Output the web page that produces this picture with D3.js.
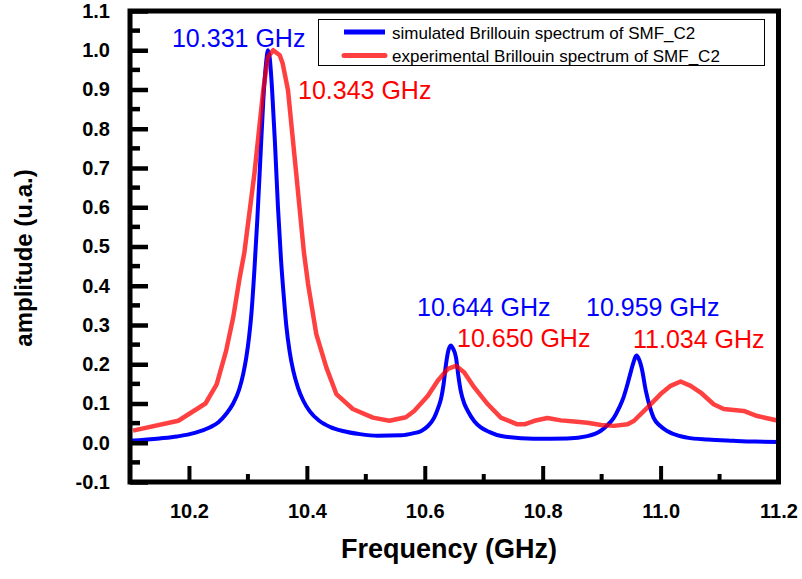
<!DOCTYPE html>
<html>
<head>
<meta charset="utf-8">
<script src="https://cdn.jsdelivr.net/npm/d3@7/dist/d3.min.js"></script>
<style>
  html, body { margin: 0; padding: 0; background: #fff; }
  svg { display: block; }
  text { font-family: Arial, "Liberation Sans", sans-serif; }
</style>
</head>
<body>
<svg id="chart" width="802" height="579"></svg>
<script>
// Simulated Brillouin gain spectrum (GHz, normalised amplitude)
const simFreq = [10.100, 10.150, 10.180, 10.210, 10.235, 10.250, 10.263, 10.275, 10.285, 10.292,
  10.297, 10.302, 10.306, 10.311, 10.316, 10.321, 10.326, 10.331, 10.334, 10.337,
  10.341, 10.346, 10.351, 10.356, 10.361, 10.365, 10.371, 10.377, 10.385, 10.394,
  10.405, 10.421, 10.440, 10.461, 10.490, 10.520, 10.560, 10.580, 10.594, 10.605,
  10.616, 10.623, 10.628, 10.632, 10.636, 10.640, 10.644, 10.648, 10.653, 10.657,
  10.661, 10.667, 10.673, 10.684, 10.695, 10.710, 10.730, 10.785, 10.842, 10.876,
  10.898, 10.910, 10.920, 10.930, 10.937, 10.944, 10.949, 10.954, 10.959, 10.964,
  10.968, 10.975, 10.982, 10.988, 11.000, 11.011, 11.030, 11.045, 11.080, 11.124,
  11.160, 11.200];
const simAmp = [0.005, 0.011, 0.016, 0.025, 0.039, 0.052, 0.073, 0.100, 0.135, 0.175,
  0.215, 0.270, 0.330, 0.440, 0.570, 0.720, 0.870, 0.970, 1.000, 0.980,
  0.900, 0.760, 0.600, 0.470, 0.370, 0.300, 0.230, 0.183, 0.140, 0.107,
  0.080, 0.056, 0.040, 0.030, 0.022, 0.018, 0.019, 0.024, 0.030, 0.042,
  0.064, 0.090, 0.115, 0.150, 0.200, 0.235, 0.248, 0.240, 0.217, 0.170,
  0.132, 0.100, 0.081, 0.055, 0.039, 0.027, 0.017, 0.010, 0.011, 0.017,
  0.030, 0.045, 0.062, 0.090, 0.115, 0.150, 0.178, 0.205, 0.222, 0.210,
  0.190, 0.132, 0.090, 0.064, 0.042, 0.030, 0.018, 0.013, 0.008, 0.005,
  0.003, 0.002];

// Measured Brillouin spectrum
const expFreq = [10.105, 10.182, 10.228, 10.247, 10.263, 10.275, 10.286, 10.294, 10.311, 10.326,
  10.334, 10.343, 10.354, 10.359, 10.368, 10.382, 10.395, 10.402, 10.416, 10.433,
  10.450, 10.478, 10.512, 10.540, 10.568, 10.582, 10.605, 10.622, 10.639, 10.653,
  10.667, 10.684, 10.707, 10.729, 10.757, 10.769, 10.786, 10.808, 10.831, 10.853,
  10.876, 10.899, 10.921, 10.944, 10.955, 10.978, 11.000, 11.017, 11.034, 11.051,
  11.068, 11.090, 11.107, 11.141, 11.164, 11.200];
const expAmp = [0.031, 0.056, 0.100, 0.149, 0.234, 0.319, 0.420, 0.485, 0.685, 0.898,
  0.983, 1.000, 0.987, 0.966, 0.898, 0.685, 0.485, 0.405, 0.277, 0.192,
  0.124, 0.086, 0.064, 0.056, 0.065, 0.081, 0.119, 0.158, 0.188, 0.196,
  0.179, 0.141, 0.098, 0.064, 0.047, 0.047, 0.056, 0.063, 0.057, 0.054,
  0.051, 0.045, 0.043, 0.047, 0.056, 0.090, 0.124, 0.145, 0.156, 0.145,
  0.128, 0.098, 0.086, 0.081, 0.068, 0.056];

const seriesNames = ["simulated Brillouin spectrum of SMF_C2",
                     "experimental Brillouin spectrum of SMF_C2"];

// Peak labels: text and the series it belongs to
const peakText = ["10.331 GHz", "10.343 GHz", "10.644 GHz", "10.650 GHz", "10.959 GHz", "11.034 GHz"];
const peakSeries = [0, 1, 0, 1, 0, 1];

const xTickValues = [10.2, 10.4, 10.6, 10.8, 11.0, 11.2];
const yTickValues = [-0.1, 0.0, 0.1, 0.2, 0.3, 0.4, 0.5, 0.6, 0.7, 0.8, 0.9, 1.0, 1.1];

const svg = d3.select("#chart");
const colors = ["#0000ff", "#ff0000"];

const x = d3.scaleLinear().domain([10.1, 11.2]).range([130, 778.5]);
const y = d3.scaleLinear().domain([-0.1, 1.1]).range([482, 11]);

const plot = svg.append("g");

// curves
const simData = simFreq.map((f, i) => [f, simAmp[i]]);
const expData = expFreq.map((f, i) => [f, expAmp[i]]);

plot.append("path")
  .datum(simData)
  .attr("fill", "none")
  .attr("stroke", colors[0])
  .attr("stroke-width", 4)
  .attr("stroke-linejoin", "round")
  .attr("d", d3.line().x(d => x(d[0])).y(d => y(d[1])).curve(d3.curveMonotoneX));

plot.append("path")
  .datum(expData)
  .attr("fill", "none")
  .attr("stroke", colors[1])
  .attr("stroke-opacity", 0.75)
  .attr("stroke-width", 4.5)
  .attr("stroke-linejoin", "round")
  .attr("d", d3.line().x(d => x(d[0])).y(d => y(d[1])).curve(d3.curveLinear));

// frame
const frame = svg.append("g");
const [x0, x1] = x.range();
const [yb, yt] = y.range();
frame.append("rect")
  .attr("x", x0).attr("y", yt)
  .attr("width", x1 - x0).attr("height", yb - yt)
  .attr("fill", "none").attr("stroke", "#000").attr("stroke-width", 5);

const fmt = v => d3.format(".1f")(v).replace("\u2212", "-");

// x axis (ticks pointing inward)
const xMinor = d3.range(10.1, 11.21, 0.2).map(v => +v.toFixed(2));
const xAxis = d3.axisBottom(x).tickValues(xTickValues)
  .tickSizeInner(-16).tickSizeOuter(0).tickPadding(22)
  .tickFormat(fmt);
const gx = svg.append("g").attr("transform", `translate(0,${yb})`).call(xAxis);
gx.select(".domain").remove();
gx.selectAll(".tick line").attr("stroke", "#000").attr("stroke-width", 4);
gx.selectAll(".tick text").attr("font-size", 20).attr("font-weight", "bold").attr("fill", "#000")
  .attr("dy", "0.71em");
svg.append("g").selectAll("line").data(xMinor).join("line")
  .attr("x1", d => x(d)).attr("x2", d => x(d))
  .attr("y1", yb).attr("y2", yb - 8)
  .attr("stroke", "#000").attr("stroke-width", 4);

// y axis
const yMinor = d3.range(-0.05, 1.1, 0.1).map(v => +v.toFixed(2));
const yAxis = d3.axisLeft(y).tickValues(yTickValues)
  .tickSizeInner(-18).tickSizeOuter(0).tickPadding(20)
  .tickFormat(fmt);
const gy = svg.append("g").attr("transform", `translate(${x0},0)`).call(yAxis);
gy.select(".domain").remove();
gy.selectAll(".tick line").attr("stroke", "#000").attr("stroke-width", 4.5);
gy.selectAll(".tick text").attr("font-size", 20).attr("font-weight", "bold").attr("fill", "#000");
svg.append("g").selectAll("line").data(yMinor).join("line")
  .attr("x1", x0).attr("x2", x0 + 10)
  .attr("y1", d => y(d)).attr("y2", d => y(d))
  .attr("stroke", "#000").attr("stroke-width", 4.5);

// axis titles
svg.append("text")
  .attr("x", 449).attr("y", 558)
  .attr("text-anchor", "middle")
  .attr("font-size", 27).attr("font-weight", "bold")
  .text("Frequency (GHz)");
svg.append("text")
  .attr("transform", "translate(32,258) rotate(-90)")
  .attr("text-anchor", "middle")
  .attr("font-size", 24).attr("font-weight", "bold")
  .text("amplitude (u.a.)");

// peak labels, placed in data units next to their peaks
const labelAt = [[10.1712, 1.008], [10.385, 0.876], [10.5869, 0.323],
                 [10.6547, 0.244], [10.8735, 0.323], [10.9533, 0.241]];
svg.append("g").selectAll("text").data(peakText).join("text")
  .attr("x", (d, i) => x(labelAt[i][0])).attr("y", (d, i) => y(labelAt[i][1]))
  .attr("font-size", 25)
  .attr("fill", (d, i) => colors[peakSeries[i]])
  .text(d => d);

// legend
const legend = svg.append("g");
legend.append("rect")
  .attr("x", 318.5).attr("y", 19.5).attr("width", 446).attr("height", 46)
  .attr("fill", "#fff").attr("stroke", "#000").attr("stroke-width", 1);
seriesNames.forEach((name, i) => {
  const ly = 32 + i * 23.5;
  legend.append("line")
    .attr("x1", 344).attr("x2", 385).attr("y1", ly).attr("y2", ly)
    .attr("stroke", colors[i]).attr("stroke-width", 5)
    .attr("stroke-opacity", i === 1 ? 0.75 : 1)
    .attr("stroke-linecap", i === 1 ? "round" : "butt");
  legend.append("text")
    .attr("x", 392).attr("y", ly + 6.5)
    .attr("font-size", 17).attr("fill", "#000")
    .text(name);
});
</script>
</body>
</html>
